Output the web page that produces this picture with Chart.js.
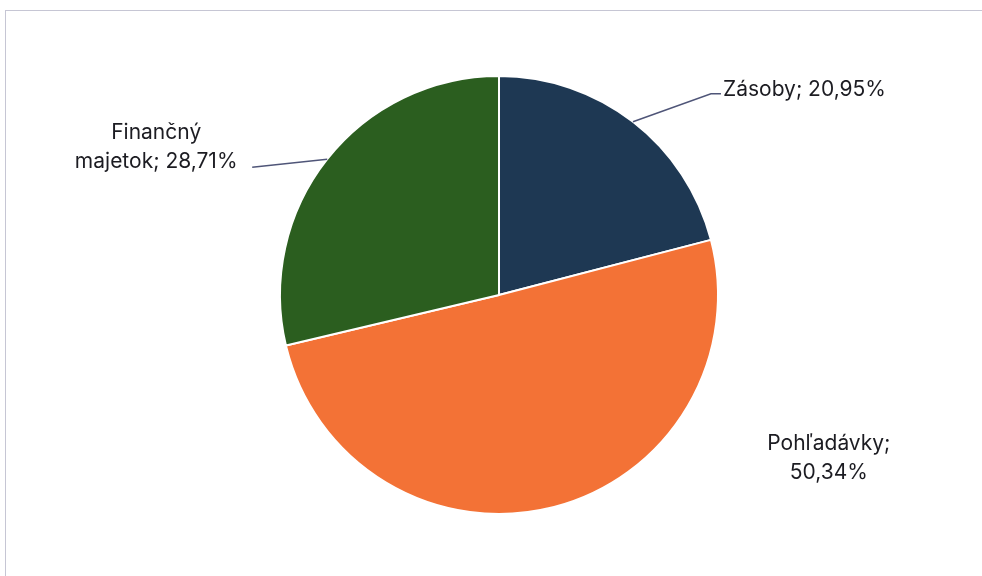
<!DOCTYPE html>
<html>
<head>
<meta charset="utf-8">
<script src="https://cdn.jsdelivr.net/npm/chart.js@4"></script>
<style>
  html, body { margin: 0; padding: 0; background: #fff; }
  #wrap { position: relative; width: 982px; height: 576px; overflow: hidden; }
  #frame { position: absolute; left: 5px; top: 10px; width: 1000px; height: 600px;
           border-left: 1px solid #c6c6d4; border-top: 1px solid #c6c6d4; }
  canvas { position: absolute; left: 0; top: 0; }
</style>
</head>
<body>
<div id="wrap">
  <div id="frame"></div>
  <canvas id="pie" width="982" height="576"></canvas>
</div>
<script>
// Štruktúra obežného majetku
var categories = ['Zásoby', 'Pohľadávky', 'Finančný majetok'];
var shares = [20.95, 50.34, 28.71];
var sliceLabels = [
    ['Zásoby; 20,95%'],
    ['Pohľadávky;', '50,34%'],
    ['Finančný', 'majetok; 28,71%']
];
var colors = ['#1e3853', '#f37236', '#2b5e1f'];

// where each label sits, relative to the middle of its arc
var labelLayout = [
    { dx: 90, dy: -32, align: 'left', leader: [[78, -28], [88, -28]] },
    { dx: 277, dy: -64, align: 'center', leader: null },
    { dx: -171, dy: -27, align: 'center', leader: [[-75, 8]] }
];

var outsideLabels = {
    id: 'outsideLabels',
    afterDatasetsDraw: function (chart) {
        var ctx = chart.ctx;
        var arcs = chart.getDatasetMeta(0).data;
        ctx.save();
        arcs.forEach(function (arc, i) {
            var p = arc.getProps(['x', 'y', 'startAngle', 'endAngle', 'outerRadius'], true);
            var mid = (p.startAngle + p.endAngle) / 2;
            var px = p.x + Math.cos(mid) * p.outerRadius;
            var py = p.y + Math.sin(mid) * p.outerRadius;
            var lay = labelLayout[i];

            if (lay.leader) {
                ctx.strokeStyle = '#4f5578';
                ctx.lineWidth = 1.5;
                ctx.beginPath();
                ctx.moveTo(px, py);
                lay.leader.forEach(function (pt) {
                    ctx.lineTo(px + pt[0], py + pt[1]);
                });
                ctx.stroke();
            }

            ctx.fillStyle = '#1c1c22';
            ctx.font = '21px Inter, "Noto Sans", sans-serif';
            ctx.textAlign = lay.align;
            ctx.textBaseline = 'middle';
            sliceLabels[i].forEach(function (line, k) {
                ctx.fillText(line, px + lay.dx, py + lay.dy + k * 29);
            });
        });
        ctx.restore();
    }
};

var ctx = document.getElementById('pie').getContext('2d');
var chart = new Chart(ctx, {
    type: 'pie',
    data: {
        labels: categories,
        datasets: [{
            data: shares,
            backgroundColor: colors,
            borderColor: '#ffffff',
            borderWidth: 2
        }]
    },
    options: {
        responsive: false,
        animation: false,
        layout: { padding: { top: 75, bottom: 61, left: 100, right: 84 } },
        plugins: {
            legend: { display: false },
            tooltip: { enabled: false }
        }
    },
    plugins: [outsideLabels]
});
</script>
</body>
</html>
